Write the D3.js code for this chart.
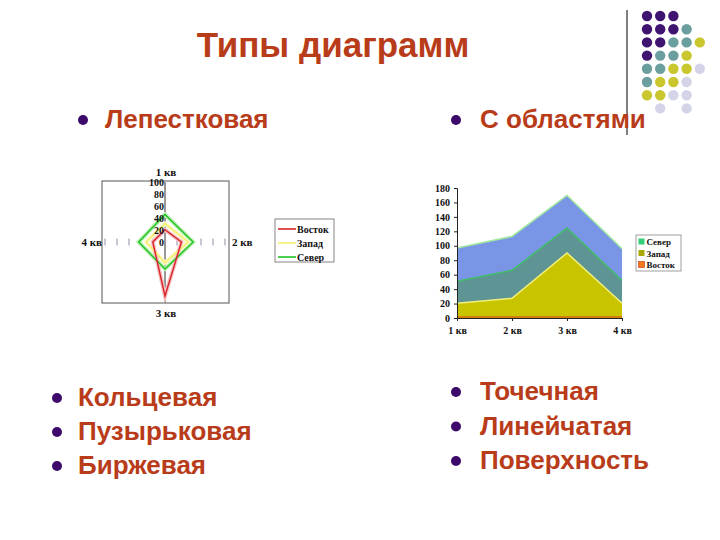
<!DOCTYPE html>
<html>
<head>
<meta charset="utf-8">
<script src="https://cdn.jsdelivr.net/npm/d3@7"></script>
<style>
  body { margin: 0; background: #fff; }
  svg { display: block; }
  .slide-text { font-family: "Liberation Sans", Arial, sans-serif; font-weight: bold; fill: #b93c1a; }
  .chart-text { font-family: "Liberation Serif", "Times New Roman", serif; font-weight: bold; fill: #111; }
</style>
</head>
<body>
<div id="slide"></div>
<script>
// data
var quarters = ["1 кв", "2 кв", "3 кв", "4 кв"];
var vostok = [20.4, 27.4, 90, 20.4];
var zapad = [30.6, 38.6, 34.6, 31.6];
var sever = [45.9, 46.9, 45, 43.9];
var seriesNames = ["Восток", "Запад", "Север"];
var radarTicks = [0, 20, 40, 60, 80, 100];
var areaTicks = [0, 20, 40, 60, 80, 100, 120, 140, 160, 180];

var title = "Типы диаграмм";
var topLeftItem = "Лепестковая";
var topRightItem = "С областями";
var leftItems = ["Кольцевая", "Пузырьковая", "Биржевая"];
var rightItems = ["Точечная", "Линейчатая", "Поверхность"];

// decorative dot grid, 0 = empty, 1 purple, 2 teal, 3 yellow, 4 lavender
var dotRows = [
  [1, 1, 1, 0, 0],
  [1, 1, 1, 2, 0],
  [1, 1, 2, 2, 3],
  [1, 2, 2, 3, 0],
  [2, 2, 3, 3, 4],
  [2, 3, 3, 4, 0],
  [3, 3, 4, 4, 0],
  [0, 4, 0, 4, 0]
];
var dotColors = [null, "#3f1470", "#6b9e9e", "#c9c62e", "#d4d4e8"];

var width = 720, height = 540;

var svg = d3.select("#slide").append("svg")
    .attr("width", width)
    .attr("height", height);

// ---- decoration top right
svg.append("line")
    .attr("x1", 627).attr("x2", 627)
    .attr("y1", 10).attr("y2", 135)
    .attr("stroke", "#000").attr("stroke-width", 1);

dotRows.forEach(function(row, r) {
  row.forEach(function(c, k) {
    if (!c) return;
    svg.append("circle")
        .attr("cx", 647 + k * 13.2)
        .attr("cy", 16 + r * 13.2)
        .attr("r", 5.2)
        .attr("fill", dotColors[c]);
  });
});

// ---- title and bullets
svg.append("text")
    .attr("class", "slide-text")
    .attr("x", 333).attr("y", 57)
    .attr("text-anchor", "middle")
    .style("font-size", "35px")
    .text(title);

function bullet(x, y, label, tx) {
  svg.append("circle")
      .attr("cx", x).attr("cy", y - 8)
      .attr("r", 5)
      .attr("fill", "#3d0a6b");
  svg.append("text")
      .attr("class", "slide-text")
      .attr("x", tx).attr("y", y)
      .style("font-size", "26px")
      .text(label);
}

bullet(83, 128, topLeftItem, 105);
bullet(456, 128, topRightItem, 480);
leftItems.forEach(function(d, i) { bullet(57, 406 + i * 34, d, 78); });
rightItems.forEach(function(d, i) { bullet(456, 400 + i * 34.5, d, 480); });

// ---- radar chart
var cx = 165, cy = 242;
var r = d3.scaleLinear().domain([0, 100]).range([0, 60]);

var radar = svg.append("g").attr("transform", "translate(" + cx + "," + cy + ")");

radar.append("rect")
    .attr("x", -63).attr("y", -61)
    .attr("width", 127).attr("height", 122)
    .attr("fill", "none")
    .attr("stroke", "#555")
    .attr("stroke-width", 1);

// vertical axis (1 кв / 3 кв)
radar.append("line")
    .attr("x1", 0).attr("x2", 0)
    .attr("y1", -r(100)).attr("y2", r(100) + 1)
    .attr("stroke", "#333").attr("stroke-width", 1);

// horizontal axes only show tick marks
radarTicks.slice(1).forEach(function(t) {
  [-1, 1].forEach(function(s) {
    radar.append("line")
        .attr("x1", s * r(t)).attr("x2", s * r(t))
        .attr("y1", -3.5).attr("y2", 3.5)
        .attr("stroke", "#9a8aa8").attr("stroke-width", 1);
  });
});

var radial = d3.lineRadial()
    .angle(function(d, i) { return i * Math.PI / 2; })
    .radius(function(d) { return r(d); })
    .curve(d3.curveLinearClosed);

var radarSeries = [
  {name: "Север", values: sever, color: "#22c322", glow: "#b8f0b0"},
  {name: "Запад", values: zapad, color: "#f6f06a", glow: "#fbf8c8"},
  {name: "Восток", values: vostok, color: "#d8232a", glow: "#f4c0c0"}
];

radarSeries.forEach(function(s) {
  radar.append("path")
      .attr("d", radial(s.values))
      .attr("fill", "none")
      .attr("stroke", s.glow)
      .attr("stroke-width", 4);
});
radarSeries.forEach(function(s) {
  radar.append("path")
      .attr("d", radial(s.values))
      .attr("fill", "none")
      .attr("stroke", s.color)
      .attr("stroke-width", 1.4);
});

// value labels drawn over the lines
var rAxisScale = d3.scaleLinear().domain([0, 100]).range([0, -r(100)]);
var rAxis = radar.append("g")
    .call(d3.axisLeft(rAxisScale).tickValues(radarTicks).tickSize(0).tickPadding(1));
rAxis.select(".domain").remove();
rAxis.selectAll("text")
    .attr("class", "chart-text")
    .style("font-size", "10px");

// quarter labels round the radar
var qPos = [
  {x: 1, y: -66, anchor: "middle"},
  {x: 67, y: 4, anchor: "start"},
  {x: 1, y: 75, anchor: "middle"},
  {x: -63, y: 4, anchor: "end"}
];
quarters.forEach(function(q, i) {
  radar.append("text")
      .attr("class", "chart-text")
      .attr("x", qPos[i].x).attr("y", qPos[i].y)
      .attr("text-anchor", qPos[i].anchor)
      .style("font-size", "11px")
      .text(q);
});

// radar legend
var rLegend = svg.append("g").attr("transform", "translate(275,219)");
rLegend.append("rect")
    .attr("width", 59).attr("height", 43)
    .attr("fill", "#fff")
    .attr("stroke", "#666").attr("stroke-width", 0.8);
var radarLegendColors = {"Восток": "#d8232a", "Запад": "#f6f06a", "Север": "#22c322"};
seriesNames.forEach(function(n, i) {
  var y = 10 + i * 14;
  rLegend.append("line")
      .attr("x1", 3).attr("x2", 21)
      .attr("y1", y).attr("y2", y)
      .attr("stroke", radarLegendColors[n]).attr("stroke-width", 1.6);
  rLegend.append("text")
      .attr("class", "chart-text")
      .attr("x", 22).attr("y", y + 3.5)
      .style("font-size", "10px")
      .text(n);
});

// ---- stacked area chart
var x = d3.scalePoint().domain(quarters).range([457, 622]);
var y = d3.scaleLinear().domain([0, 180]).range([318, 188]);

var table = quarters.map(function(q, i) {
  return {q: q, "Восток": vostok[i], "Запад": zapad[i], "Север": sever[i]};
});
var stacked = d3.stack().keys(seriesNames)(table);

var areaFill = {"Восток": "#c8c400", "Запад": "#5f9494", "Север": "#7b95e6"};
var areaEdge = {"Восток": "#f2f07a", "Запад": "#3fbf6a", "Север": "#9fe8a0"};

var area = d3.area()
    .x(function(d) { return x(d.data.q); })
    .y0(function(d) { return y(d[0]); })
    .y1(function(d) { return y(d[1]); });

var topLine = d3.line()
    .x(function(d) { return x(d.data.q); })
    .y(function(d) { return y(d[1]); });

stacked.forEach(function(layer) {
  svg.append("path")
      .datum(layer)
      .attr("d", area)
      .attr("fill", areaFill[layer.key]);
});
stacked.forEach(function(layer) {
  svg.append("path")
      .datum(layer)
      .attr("d", topLine)
      .attr("fill", "none")
      .attr("stroke", areaEdge[layer.key])
      .attr("stroke-width", 1.5);
});

// baseline in red like the Восток border
svg.append("line")
    .attr("x1", x(quarters[0])).attr("x2", x(quarters[3]))
    .attr("y1", y(0) - 1).attr("y2", y(0) - 1)
    .attr("stroke", "#e03a1a").attr("stroke-width", 1.2);

var yAxis = svg.append("g")
    .attr("transform", "translate(457,0)")
    .call(d3.axisLeft(y).tickValues(areaTicks).tickSize(3).tickPadding(4));
var xAxis = svg.append("g")
    .attr("transform", "translate(0,318)")
    .call(d3.axisBottom(x).tickSize(3).tickPadding(6));

[yAxis, xAxis].forEach(function(a) {
  a.select(".domain").attr("stroke", "#222");
  a.selectAll(".tick line").attr("stroke", "#222");
  a.selectAll("text")
      .attr("class", "chart-text")
      .style("font-size", "10px");
});

// area legend
var aLegend = svg.append("g").attr("transform", "translate(636,235)");
aLegend.append("rect")
    .attr("width", 45).attr("height", 36)
    .attr("fill", "#fff")
    .attr("stroke", "#888").attr("stroke-width", 0.8);
var legendSquare = {"Север": "#33cc77", "Запад": "#a9a800", "Восток": "#f27a1a"};
seriesNames.slice().reverse().forEach(function(n, i) {
  var yy = 7 + i * 11.5;
  aLegend.append("rect")
      .attr("x", 2.5).attr("y", yy - 3.5)
      .attr("width", 6).attr("height", 6)
      .attr("fill", legendSquare[n])
      .attr("stroke", n === "Восток" ? "#c03010" : "none")
      .attr("stroke-width", 0.6);
  aLegend.append("text")
      .attr("class", "chart-text")
      .attr("x", 10.5).attr("y", yy + 3)
      .style("font-size", "9px")
      .text(n);
});
</script>
</body>
</html>
